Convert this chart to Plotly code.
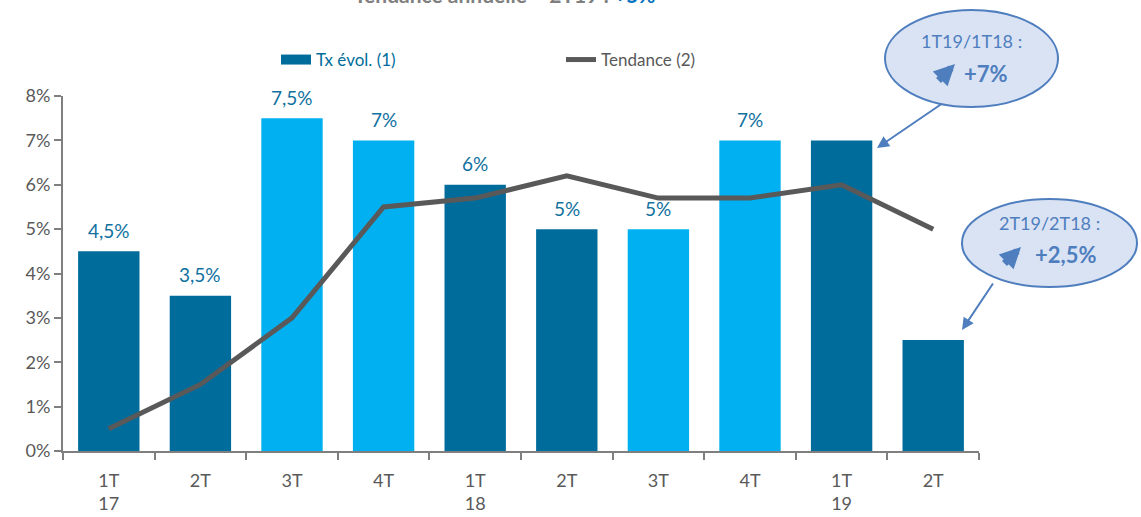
import plotly.graph_objects as go

categories = ["1T17", "2T17", "3T17", "4T17", "1T18", "2T18", "3T18", "4T18", "1T19", "2T19"]
tick_labels = ["1T<br>17", "2T", "3T", "4T", "1T<br>18", "2T", "3T", "4T", "1T<br>19", "2T"]
tx_evol = [4.5, 3.5, 7.5, 7.0, 6.0, 5.0, 5.0, 7.0, 7.0, 2.5]
bar_labels = ["4,5%", "3,5%", "7,5%", "7%", "6%", "5%", "5%", "7%", "", ""]
tendance = [0.5, 1.5, 3.0, 5.5, 5.7, 6.2, 5.7, 5.7, 6.0, 5.0]
bar_kind = ["dark", "dark", "light", "light", "dark", "dark", "light", "light", "dark", "dark"]

DARK = "#006C9C"
LIGHT = "#00B0F0"
LABEL = "#11719F"
GRAY = "#595959"
ELL_FILL = "#DAE3F3"
ELL_LINE = "#4F7EBF"
FONT = "Lato"

# plot area in pixels
L, R, T, B = 63, 162, 96, 66
W, H = 1141, 517
PW, PH = W - L - R, H - T - B


def px(x):
    return (x - L) / PW


def py(y):
    return (H - B - y) / PH


fig = go.Figure()
fig.add_trace(go.Bar(
    x=categories, y=tx_evol,
    marker=dict(color=[DARK if k == "dark" else LIGHT for k in bar_kind], line=dict(width=0)),
    showlegend=False, hoverinfo="skip",
))
# legend entry for the bars (wide swatch, like the reference)
fig.add_trace(go.Scatter(
    x=[None], y=[None], mode="lines", line=dict(color=DARK, width=12),
    name="<span style='color:%s'>Tx évol. (1)</span>" % DARK,
))
fig.add_trace(go.Scatter(
    x=categories, y=tendance, mode="lines",
    line=dict(color=GRAY, width=5),
    name="<span style='color:%s'>Tendance (2)</span>" % GRAY,
))

shapes = [
    dict(type="circle", xref="paper", yref="paper", x0=px(885), x1=px(1058), y0=py(107), y1=py(10),
         fillcolor=ELL_FILL, line=dict(color=ELL_LINE, width=2), layer="above"),
    dict(type="circle", xref="paper", yref="paper", x0=px(962), x1=px(1137), y0=py(287), y1=py(199),
         fillcolor=ELL_FILL, line=dict(color=ELL_LINE, width=2), layer="above"),
]


def txt(x, y, text, size, bold=False, color=ELL_LINE):
    return dict(xref="paper", yref="paper", x=px(x), y=py(y), xanchor="center", yanchor="middle",
                showarrow=False, text=("<b>%s</b>" % text) if bold else text,
                font=dict(size=size, color=color, family=FONT))


def arrow(x0, y0, x1, y1, width, size):
    return dict(xref="paper", yref="paper", x=px(x1), y=py(y1), ax=x0 - x1, ay=y0 - y1,
                axref="pixel", ayref="pixel", text="", showarrow=True,
                arrowhead=2, arrowsize=size, arrowwidth=width, arrowcolor=ELL_LINE)


annotations = [
    txt(505, -5, "Tendance annuelle – 2T19 : <span style='color:#0070C0'>+5%</span>", 21, True, "#7F7F7F"),
    txt(971, 41, "1T19/1T18 :", 18),
    txt(986, 73, "+7%", 22, True),
    txt(1049, 223, "2T19/2T18 :", 18),
    txt(1065, 255, "+2,5%", 22, True),
    arrow(937, 82, 955, 64, 7, 0.6),
    arrow(1003, 265, 1021, 247, 7, 0.6),
    arrow(943, 103, 877, 148, 2, 1.2),
    arrow(994, 282, 962, 330, 2, 1.2),
]

# value labels above bars, positioned in data coordinates
for c, v, lab in zip(categories, tx_evol, bar_labels):
    if lab:
        annotations.append(dict(x=c, y=v, xref="x", yref="y", text=lab, showarrow=False,
                                yanchor="middle", yshift=21,
                                font=dict(size=19, color=LABEL, family=FONT)))

fig.update_layout(
    width=W, height=H,
    margin=dict(l=L, r=R, t=T, b=B, autoexpand=False),
    paper_bgcolor="white", plot_bgcolor="white",
    bargap=0.33,
    font=dict(family=FONT, color=GRAY, size=17),
    showlegend=True,
    legend=dict(orientation="h", x=px(276), y=py(60), xanchor="left", yanchor="middle",
                entrywidth=240, entrywidthmode="pixels", font=dict(size=17),
                bgcolor="rgba(0,0,0,0)"),
    shapes=shapes, annotations=annotations,
)
fig.update_xaxes(
    type="category", tickmode="array", tickvals=categories, ticktext=tick_labels,
    showline=True, linecolor="#7F7F7F", linewidth=2,
    ticks="outside", tickson="boundaries", ticklen=7, tickwidth=2, tickcolor="#7F7F7F",
    tickfont=dict(size=18, color=GRAY), showgrid=False, ticklabelstandoff=12,
)
fig.update_yaxes(
    range=[0, 8], dtick=1, ticksuffix="%",
    showline=True, linecolor="#7F7F7F", linewidth=2,
    ticks="outside", ticklen=7, tickwidth=2, tickcolor="#7F7F7F",
    tickfont=dict(size=18, color=GRAY), showgrid=False, zeroline=False,
)

fig.write_html("out.html", config={"displayModeBar": False},
               post_script="document.body.style.margin='0';")
